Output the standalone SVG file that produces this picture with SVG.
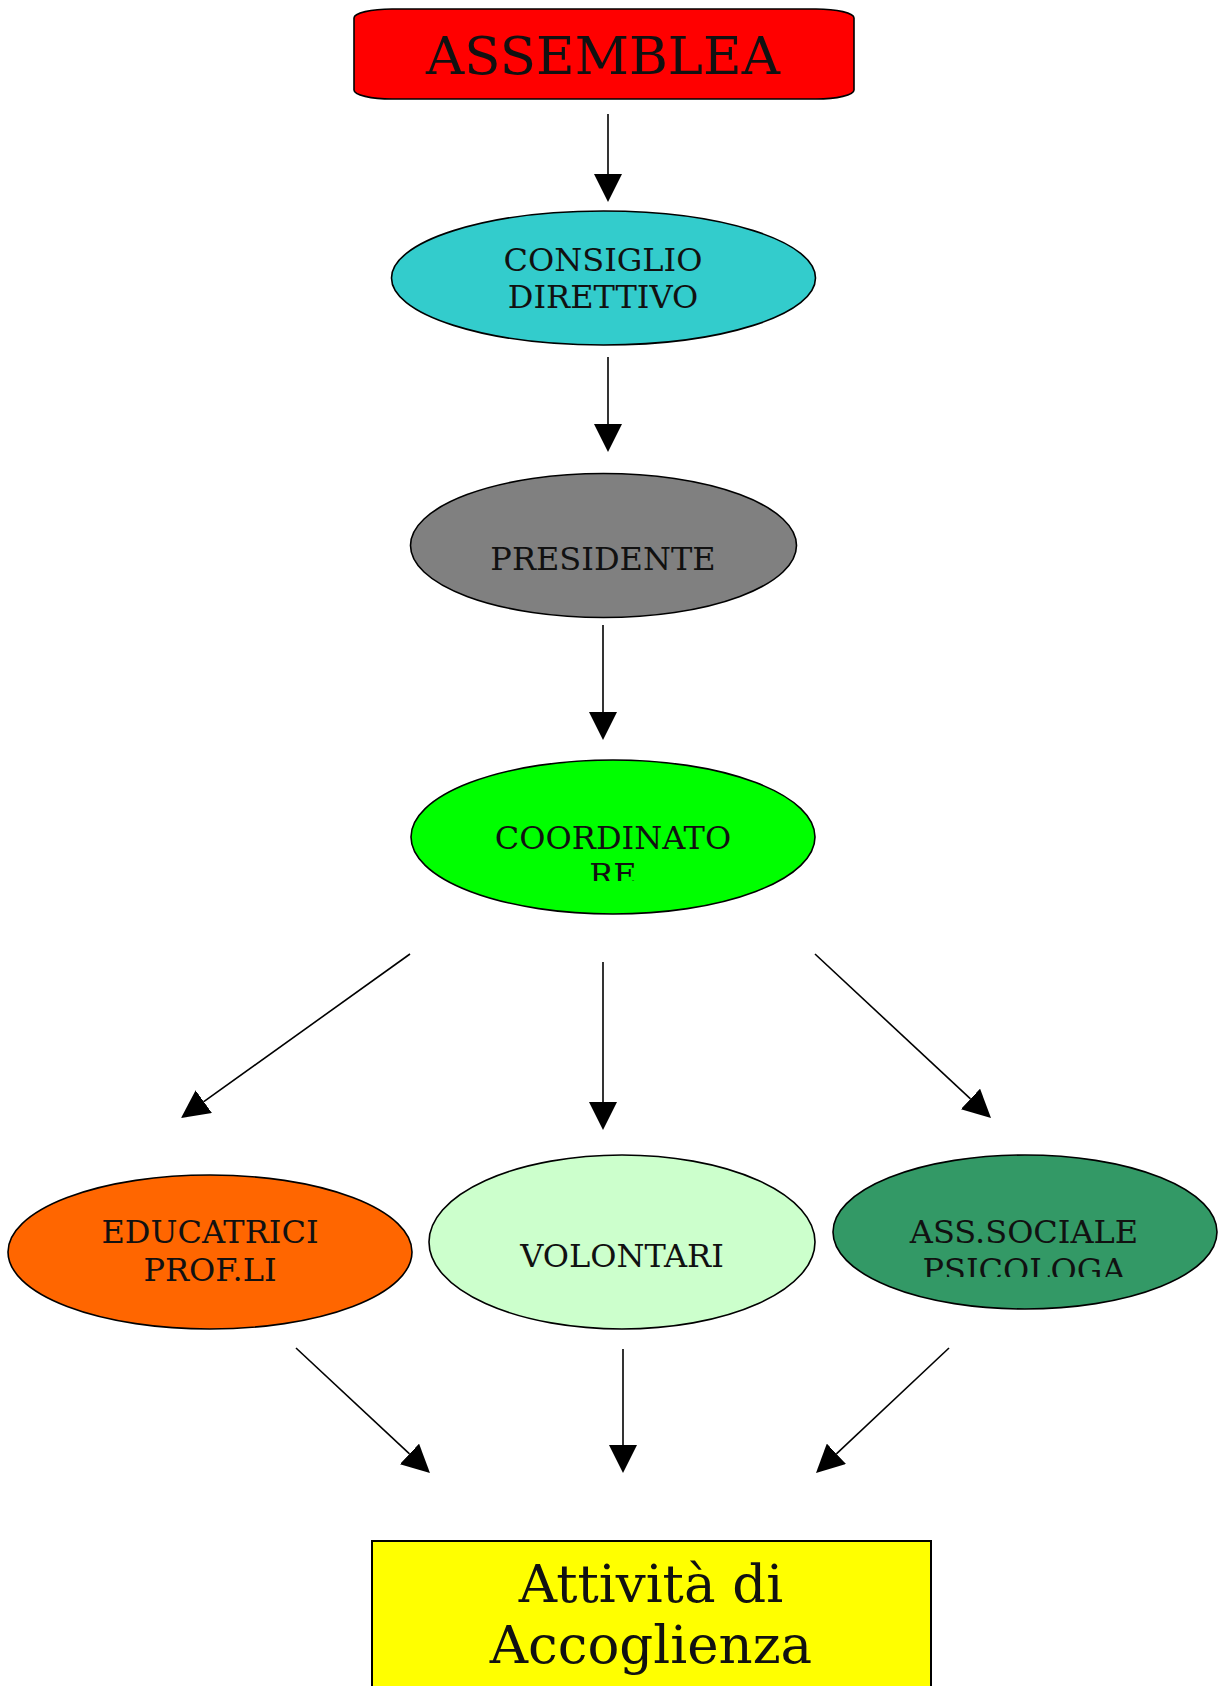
<svg xmlns="http://www.w3.org/2000/svg" width="1218" height="1686" viewBox="0 0 1218 1686">
<style>
.n{stroke:#000;stroke-width:1.6}
.t{font-family:"DejaVu Serif","Liberation Serif",serif;fill:#111;text-anchor:middle}
.s32{font-size:32px}
.e{fill:none;stroke:#000;stroke-width:1.6}
</style>
<defs>
<marker id="ah" markerUnits="userSpaceOnUse" markerWidth="28" markerHeight="28" refX="0" refY="14" orient="auto">
<path d="M0,0 L28,14 L0,28 z" fill="#000"/>
</marker>
<clipPath id="clipCoord"><rect x="400" y="800" width="430" height="81"/></clipPath>
<clipPath id="clipAss"><rect x="840" y="1200" width="378" height="77"/></clipPath>
</defs>
<rect width="1218" height="1686" fill="#fff"/>
<g id="connectors">
<path class="e" d="M608,114 V174" marker-end="url(#ah)"/>
<path class="e" d="M608,357 V424" marker-end="url(#ah)"/>
<path class="e" d="M603,625 V712" marker-end="url(#ah)"/>
<path class="e" d="M410,954 L203.8,1101.7" marker-end="url(#ah)"/>
<path class="e" d="M603,962 V1102" marker-end="url(#ah)"/>
<path class="e" d="M815,954 L970.5,1098.9" marker-end="url(#ah)"/>
<path class="e" d="M296,1348 L409.5,1453.9" marker-end="url(#ah)"/>
<path class="e" d="M623,1349 V1445" marker-end="url(#ah)"/>
<path class="e" d="M949,1348 L836.4,1453.8" marker-end="url(#ah)"/>
</g>
<g id="assemblea">
<rect class="n" x="354" y="9" width="500" height="90" rx="38" ry="9" fill="#ff0000"/>
<text class="t" x="603" y="74" font-size="53">ASSEMBLEA</text>
</g>
<g id="consiglio">
<ellipse class="n" cx="603.5" cy="278" rx="212" ry="67" fill="#33cccc"/>
<text class="t s32" x="603" y="271">CONSIGLIO</text>
<text class="t s32" x="603" y="308">DIRETTIVO</text>
</g>
<g id="presidente">
<ellipse class="n" cx="603.5" cy="545.5" rx="193" ry="72" fill="#808080"/>
<text class="t s32" x="603" y="570">PRESIDENTE</text>
</g>
<g id="coordinatore">
<ellipse class="n" cx="613" cy="837" rx="202" ry="77" fill="#00ff00"/>
<g clip-path="url(#clipCoord)">
<text class="t s32" x="613" y="849">COORDINATO</text>
<text class="t s32" x="613" y="886">RE</text>
</g>
</g>
<g id="educatrici">
<ellipse class="n" cx="210" cy="1252" rx="202" ry="77" fill="#ff6600"/>
<text class="t s32" x="210" y="1243">EDUCATRICI</text>
<text class="t s32" x="210" y="1281">PROF.LI</text>
</g>
<g id="volontari">
<ellipse class="n" cx="622" cy="1242" rx="193" ry="87" fill="#ccffcc"/>
<text class="t s32" x="622" y="1267">VOLONTARI</text>
</g>
<g id="assistente">
<ellipse class="n" cx="1025" cy="1232" rx="192" ry="77" fill="#339966"/>
<g clip-path="url(#clipAss)">
<text class="t s32" x="1024" y="1243">ASS.SOCIALE</text>
<text class="t s32" x="1024" y="1281">PSICOLOGA</text>
</g>
</g>
<g id="attivita">
<rect x="372" y="1541" width="559" height="160" fill="#ffff00" stroke="#000" stroke-width="2"/>
<text class="t" x="651" y="1602" font-size="53" fill="#000">Attività di</text>
<text class="t" x="651" y="1663" font-size="53" fill="#000">Accoglienza</text>
</g>
</svg>
